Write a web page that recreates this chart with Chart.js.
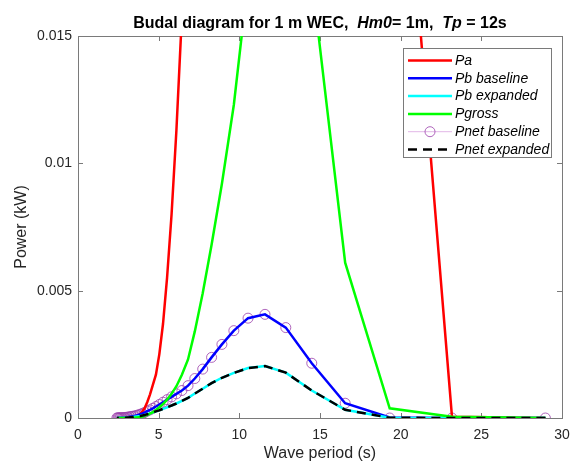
<!DOCTYPE html>
<html>
<head>
<meta charset="utf-8">
<script src="https://cdn.jsdelivr.net/npm/chart.js@4/dist/chart.umd.min.js"></script>
<style>
html, body { margin: 0; padding: 0; background: #fff; }
#wrap { position: relative; width: 571px; height: 461px; }
#title {
    position: absolute; left: 0; top: 14px; width: 640px; line-height: 19px;
    text-align: center; white-space: pre; color: #000;
    font: bold 16px "Liberation Sans", Arial, sans-serif;
}
</style>
</head>
<body>
<div id="wrap">
    <canvas id="myChart" width="571" height="461"></canvas>
    <div id="title">Budal diagram for 1 m WEC,  <i>Hm0</i>= 1m,  <i>Tp</i> = 12s</div>
</div>
<script>
// wave periods (s)
const periods = [28.97, 23.18, 19.32, 16.56, 14.49, 12.88, 11.59, 10.54, 9.66, 8.92,
    8.28, 7.73, 7.24, 6.82, 6.44, 6.10, 5.80, 5.52, 5.27, 5.04,
    4.83, 4.64, 4.46, 4.29, 4.14, 4.00, 3.86, 3.74, 3.62, 3.51,
    3.41, 3.31, 3.22, 3.13, 3.05, 2.97, 2.90, 2.83, 2.76, 2.70,
    2.63, 2.58, 2.52, 2.47, 2.41];

// power (kW)
const pa = [0, 0.00005, 0.030, 0.045, 0.055, 0.058, 0.055, 0.050, 0.045, 0.040,
    0.034, 0.028, 0.023, 0.019, 0.0158, 0.0113, 0.0080, 0.0055, 0.0037, 0.0025,
    0.0017, 0.0013, 0.00092, 0.00062, 0.0004, 0.00026, 0.00016, 0.0001, 0.00007, 0.00005,
    0.00003, 0.00002, 0.00001, 0, 0, 0, 0, 0, 0, 0,
    0, 0, 0, 0, 0];
const pbBaseline = [0, 0, 0.00002, 0.00058, 0.00215, 0.00355, 0.00407, 0.00392, 0.00343, 0.00289,
    0.00238, 0.00192, 0.00155, 0.00127, 0.00108, 0.00095, 0.00083, 0.00072, 0.00062, 0.00053,
    0.00045, 0.00038, 0.00032, 0.00027, 0.00022, 0.00018, 0.00015, 0.00012, 0.0001, 0.00008,
    0.00007, 0.00006, 0.00005, 0.00004, 0.00003, 0.000025, 0.00002, 0.000015, 0.00001, 0.00001,
    0.000008, 0.000006, 0.000005, 0.000004, 0.000003];
const pbExpanded = [0, 0, 0.00001, 0.00032, 0.00108, 0.00178, 0.00204, 0.00196, 0.00177, 0.00158,
    0.00137, 0.00115, 0.00096, 0.00079, 0.00067, 0.00057, 0.00049, 0.00042, 0.00036, 0.0003,
    0.00026, 0.00022, 0.00018, 0.00015, 0.00012, 0.0001, 0.00008, 0.00007, 0.00006, 0.00005,
    0.00004, 0.00003, 0.00003, 0.00002, 0.00002, 0.00001, 0.00001, 0, 0, 0,
    0, 0, 0, 0, 0];
const pgross = [0, 0.00005, 0.00038, 0.0061, 0.0173, 0.022, 0.022, 0.0172, 0.0123, 0.0092,
    0.0068, 0.0049, 0.0034, 0.0023, 0.0017, 0.00125, 0.00095, 0.00072, 0.00055, 0.00042,
    0.00031, 0.00023, 0.00017, 0.00012, 0.00009, 0.00006, 0.00004, 0.00003, 0.00002, 0.00001,
    0, 0, 0, 0, 0, 0, 0, 0, 0, 0,
    0, 0, 0, 0, 0];
const pnetBaseline = [0, 0, 0, 0.00058, 0.00215, 0.00355, 0.00407, 0.00392, 0.00343, 0.00289,
    0.00238, 0.00192, 0.00155, 0.00127, 0.00108, 0.00095, 0.00083, 0.00072, 0.00062, 0.00053,
    0.00045, 0.00038, 0.00032, 0.00027, 0.00022, 0.00018, 0.00015, 0.00012, 0.0001, 0.00008,
    0.00007, 0.00006, 0.00005, 0.00004, 0.00003, 0.000025, 0.00002, 0.000015, 0.00001, 0.00001,
    0.000008, 0.000006, 0.000005, 0.000004, 0.000003];
const pnetExpanded = [0, 0, 0.00001, 0.00032, 0.00108, 0.00178, 0.00204, 0.00196, 0.00177, 0.00158,
    0.00137, 0.00115, 0.00096, 0.00079, 0.00067, 0.00057, 0.00049, 0.00042, 0.00036, 0.0003,
    0.00026, 0.00022, 0.00018, 0.00015, 0.00012, 0.0001, 0.00008, 0.00007, 0.00006, 0.00005,
    0.00004, 0.00003, 0.00003, 0.00002, 0.00002, 0.00001, 0.00001, 0, 0, 0,
    0, 0, 0, 0, 0];

const xTicks = [0, 5, 10, 15, 20, 25, 30];
const yTicks = [0, 0.005, 0.01, 0.015];

const axisColor = '#262626';
const boxColor = '#7a7a7a';
const fontFamily = '"Liberation Sans", Arial, sans-serif';
Chart.defaults.font.family = fontFamily;

const toXY = vals => vals.map((v, i) => ({ x: periods[i], y: v }));

// z: higher = drawn later (on top)
const series = [
    { label: 'Pa', data: pa, color: '#ff0000', width: 2.5, z: 1 },
    { label: 'Pb baseline', data: pbBaseline, color: '#0000ff', width: 2.5, z: 2 },
    { label: 'Pb expanded', data: pbExpanded, color: '#00ffff', width: 2.5, z: 3 },
    { label: 'Pgross', data: pgross, color: '#00ff00', width: 2.5, z: 4 },
    { label: 'Pnet baseline', data: pnetBaseline, color: '#d9a3e0', width: 0.8, marker: '#9a3fab', z: 0 },
    { label: 'Pnet expanded', data: pnetExpanded, color: '#000000', width: 2.5, dash: [9, 6], z: 5 }
];

const datasets = series.map(s => ({
    label: s.label,
    data: toXY(s.data),
    borderColor: s.color,
    borderWidth: s.width,
    borderDash: s.dash || [],
    pointRadius: s.marker ? 5 : 0,
    pointBorderColor: s.marker || s.color,
    pointBorderWidth: 0.8,
    pointBackgroundColor: 'rgba(0,0,0,0)',
    tension: 0,
    order: 10 - s.z
}));

const matlabAxes = {
    id: 'matlabAxes',
    beforeDatasetsDraw(chart) {
        const { ctx, chartArea: a, scales: { x, y } } = chart;
        ctx.save();
        ctx.strokeStyle = boxColor;
        ctx.lineWidth = 1;
        ctx.strokeRect(Math.round(a.left) + 0.5, Math.round(a.top) + 0.5,
            Math.round(a.right - a.left), Math.round(a.bottom - a.top));
        ctx.beginPath();
        xTicks.forEach(t => {
            const px = Math.round(x.getPixelForValue(t)) + 0.5;
            ctx.moveTo(px, a.bottom); ctx.lineTo(px, a.bottom - 5);
            ctx.moveTo(px, a.top); ctx.lineTo(px, a.top + 5);
        });
        yTicks.forEach(t => {
            const py = Math.round(y.getPixelForValue(t)) + 0.5;
            ctx.moveTo(a.left, py); ctx.lineTo(a.left + 5, py);
            ctx.moveTo(a.right, py); ctx.lineTo(a.right - 5, py);
        });
        ctx.stroke();
        ctx.restore();
    },
    afterDraw(chart) {
        const { ctx, chartArea: a } = chart;
        const bx = a.right - 159, by = a.top + 12, bw = 148, bh = 109;
        ctx.save();
        ctx.fillStyle = '#fff';
        ctx.fillRect(bx, by, bw, bh);
        ctx.strokeStyle = boxColor;
        ctx.lineWidth = 1;
        ctx.strokeRect(bx + 0.5, by + 0.5, bw, bh);
        ctx.font = 'italic 14px ' + fontFamily;
        ctx.textBaseline = 'middle';
        ctx.textAlign = 'left';
        series.forEach((s, i) => {
            const ry = by + 12.5 + i * 17.8;
            const x0 = bx + 5, x1 = bx + 49;
            ctx.beginPath();
            ctx.strokeStyle = s.color;
            ctx.lineWidth = s.width;
            ctx.setLineDash(s.dash || []);
            ctx.moveTo(x0, ry); ctx.lineTo(x1, ry);
            ctx.stroke();
            ctx.setLineDash([]);
            if (s.marker) {
                ctx.beginPath();
                ctx.strokeStyle = s.marker;
                ctx.lineWidth = 0.8;
                ctx.arc((x0 + x1) / 2, ry, 5, 0, Math.PI * 2);
                ctx.stroke();
            }
            ctx.fillStyle = '#000';
            ctx.fillText(s.label, bx + 52, ry + 0.5);
        });
        ctx.restore();
    }
};

new Chart(document.getElementById('myChart'), {
    type: 'line',
    data: { datasets: datasets },
    options: {
        responsive: false,
        animation: false,
        layout: { padding: { left: 0, right: 9, top: 36, bottom: 0 } },
        plugins: { legend: { display: false }, tooltip: { enabled: false } },
        scales: {
            x: {
                type: 'linear', min: 0, max: 30,
                afterBuildTicks: s => { s.ticks = xTicks.map(v => ({ value: v })); },
                ticks: { color: axisColor, font: { size: 14 }, padding: 9, maxRotation: 0 },
                grid: { display: false, drawTicks: false },
                border: { display: false },
                title: { display: true, text: 'Wave period (s)', color: axisColor, font: { size: 16 }, padding: { top: 0, bottom: -2 } },
                afterFit: s => { s.height = 43; s.paddingLeft = 0; s.paddingRight = 0; }
            },
            y: {
                type: 'linear', min: 0, max: 0.015,
                afterBuildTicks: s => { s.ticks = yTicks.map(v => ({ value: v })); },
                ticks: { color: axisColor, font: { size: 14 }, padding: 6, callback: v => String(v) },
                grid: { display: false, drawTicks: false },
                border: { display: false },
                title: { display: true, text: 'Power (kW)', color: axisColor, font: { size: 16 }, padding: { top: 12, bottom: 0 } },
                afterFit: s => { s.width = 78; s.paddingTop = 0; s.paddingBottom = 0; }
            }
        }
    },
    plugins: [matlabAxes]
});
</script>
</body>
</html>
